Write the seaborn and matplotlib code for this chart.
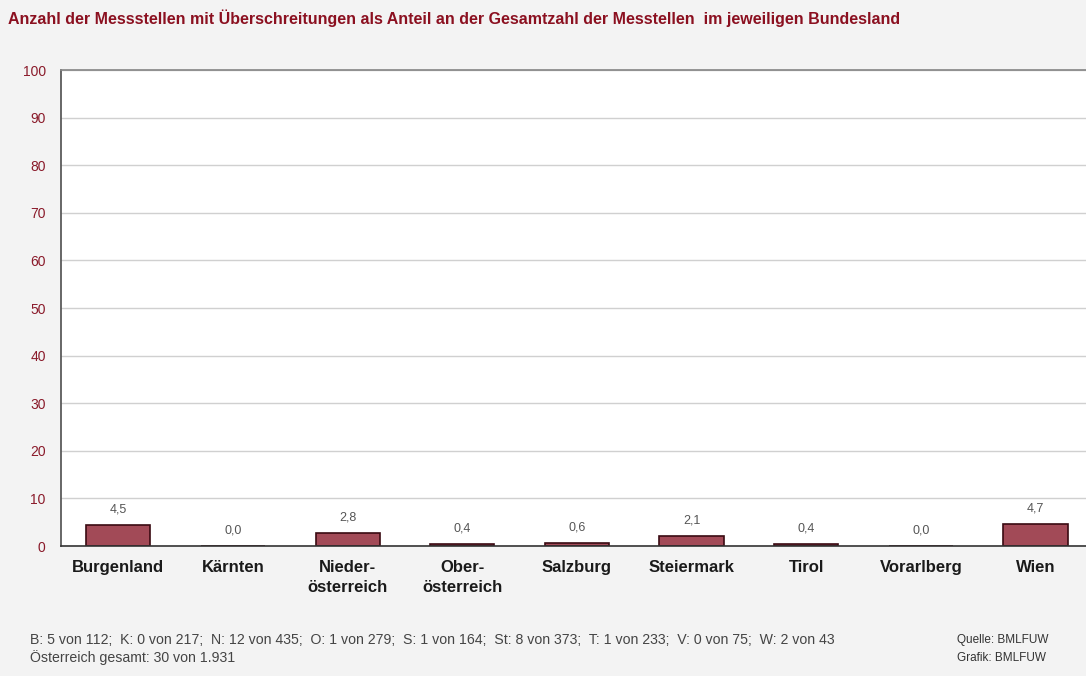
import matplotlib
matplotlib.use("Agg")
import matplotlib.pyplot as plt
import seaborn as sns
import pandas as pd

categories = ["Burgenland", "Kärnten", "Nieder-\nösterreich", "Ober-\nösterreich",
              "Salzburg", "Steiermark", "Tirol", "Vorarlberg", "Wien"]
values = [4.5, 0.0, 2.8, 0.4, 0.6, 2.1, 0.4, 0.0, 4.7]
yticks = [0, 10, 20, 30, 40, 50, 60, 70, 80, 90, 100]
title = "Anzahl der Messstellen mit Überschreitungen als Anteil an der Gesamtzahl der Messtellen  im jeweiligen Bundesland"
note1 = "B: 5 von 112;  K: 0 von 217;  N: 12 von 435;  O: 1 von 279;  S: 1 von 164;  St: 8 von 373;  T: 1 von 233;  V: 0 von 75;  W: 2 von 43"
note2 = "Österreich gesamt: 30 von 1.931"

sns.set_theme(style="white")
plt.rcParams['font.family'] = ['Liberation Sans', 'DejaVu Sans']

df = pd.DataFrame({"Bundesland": categories, "Anteil": values})

fig = plt.figure(figsize=(10.86, 6.76), dpi=100)
fig.patch.set_facecolor("#f3f3f3")
ax = fig.add_axes([61/1086, 1-546/676, 1-61/1086, (546-70)/676])
ax.set_facecolor("white")

sns.barplot(data=df, x="Bundesland", y="Anteil", ax=ax, color="#a24a57",
            width=0.56, edgecolor="#3a0a12", linewidth=1.2, saturation=1)

ax.set_ylim(0, 100)
ax.set_xlim(-0.5, 8.44)
ax.set_yticks(yticks)
ax.set_yticklabels([str(t) for t in yticks], color="#8a1a2a", fontsize=10)
ax.yaxis.grid(True, color="#d0d0d0", linewidth=1)
ax.set_axisbelow(True)
ax.set_xlabel("")
ax.set_ylabel("")
ax.tick_params(axis="x", length=0, pad=10)
ax.tick_params(axis="y", length=0, pad=11)
for lab in ax.get_xticklabels():
    lab.set_fontweight("bold")
    lab.set_fontsize(12)
    lab.set_color("#1a1a1a")
    lab.set_linespacing(1.4)
    lab.set_verticalalignment("top")

ax.spines["right"].set_visible(False)
ax.spines["left"].set_color("#555555")
ax.spines["top"].set_color("#888888")
ax.spines["bottom"].set_color("#333333")
ax.spines["bottom"].set_linewidth(1.2)

for i, v in enumerate(values):
    ax.text(i, v + 2.0, f"{v:.1f}".replace(".", ","), ha="center", va="bottom",
            fontsize=9, color="#555555")

fig.text(8/1086, 1-18/676, title, fontsize=11.5, fontweight="bold", color="#8b1020",
         ha="left", va="center")
fig.text(30/1086, 1-640/676, note1, fontsize=10.2, color="#444444", ha="left", va="center")
fig.text(30/1086, 1-658/676, note2, fontsize=10.2, color="#444444", ha="left", va="center")
fig.text(957/1086, 1-640/676, "Quelle: BMLFUW", fontsize=8.5, color="#333333", ha="left", va="center")
fig.text(957/1086, 1-658/676, "Grafik: BMLFUW", fontsize=8.5, color="#333333", ha="left", va="center")

fig.savefig("out.png", dpi=100, facecolor=fig.get_facecolor())
